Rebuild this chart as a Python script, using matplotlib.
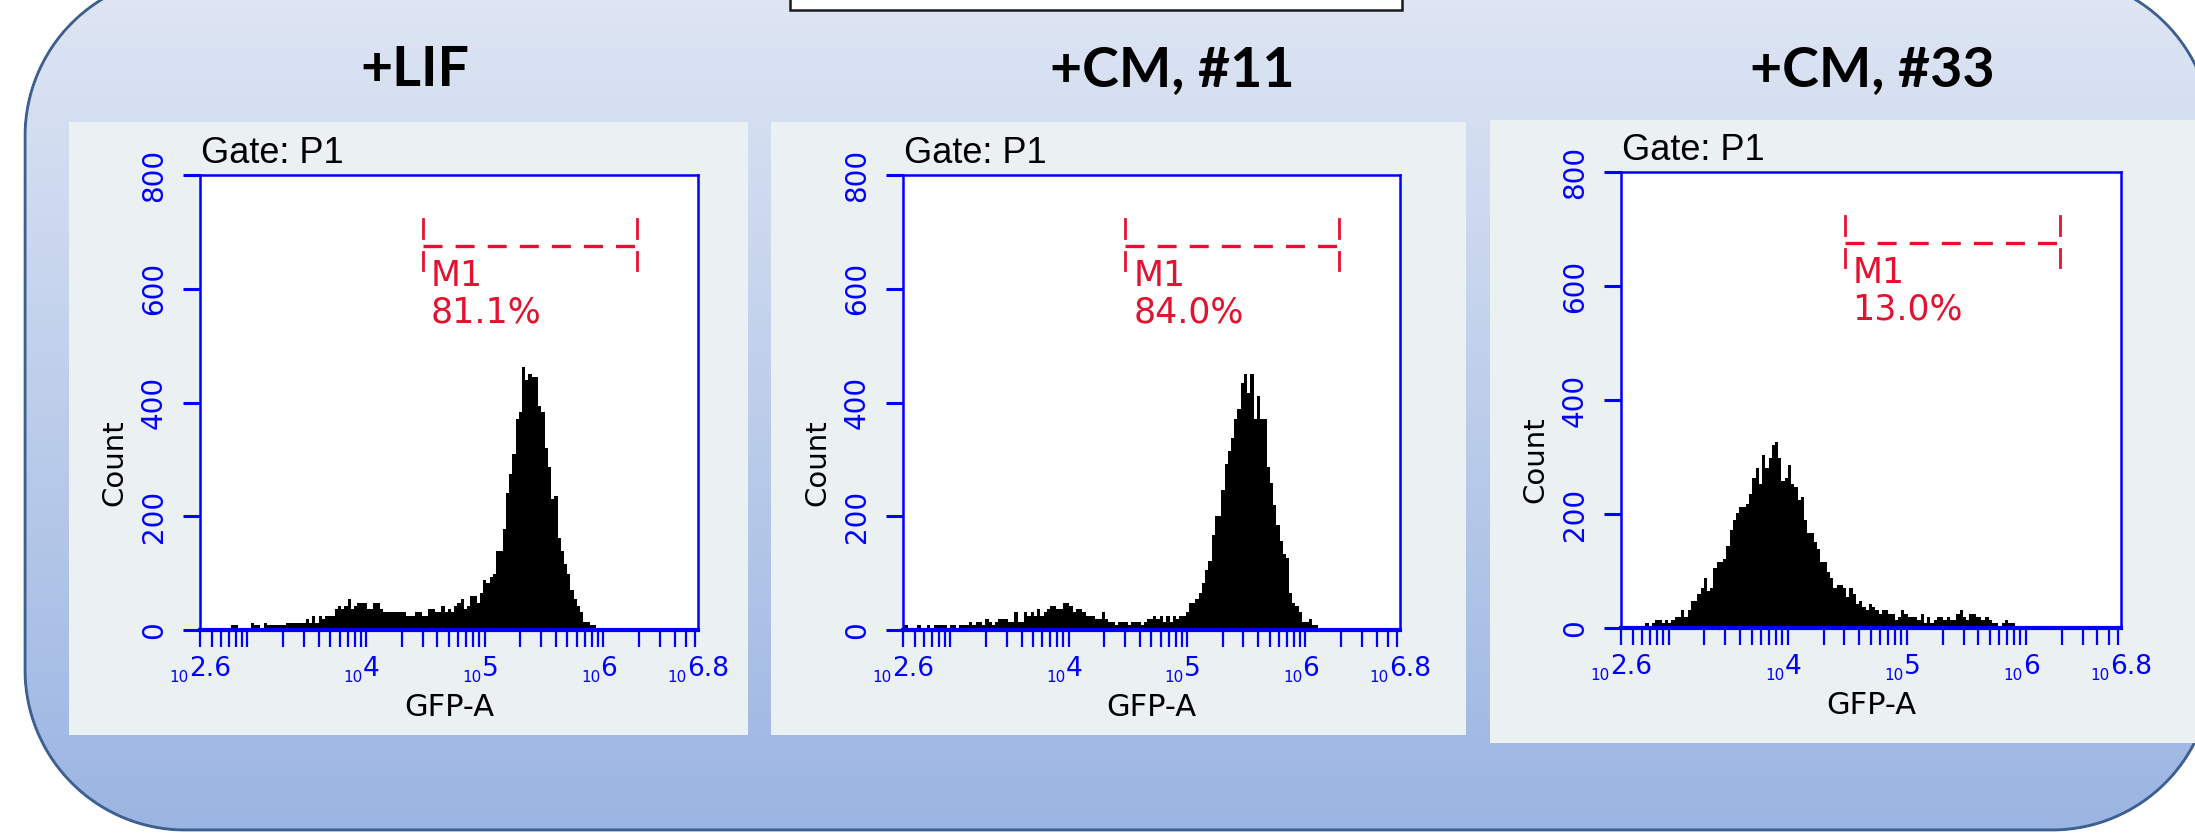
import numpy as np
import matplotlib
matplotlib.use("Agg")
import matplotlib.pyplot as plt
from matplotlib.patches import Rectangle
from matplotlib.ticker import FixedLocator, NullFormatter, NullLocator

# ---- data ----
titles = ["+LIF", "+CM, #11", "+CM, #33"]
m1_pct = ["81.1%", "84.0%", "13.0%"]
y_ticks = [0, 200, 400, 600, 800]
x_exps = ["2.6", "4", "5", "6", "6.8"]
m1_lo, m1_hi = 4.48, 6.285      # log10 GFP-A
m1_level = 675

# bin edges in log10(GFP-A), counts per bin
lif_edges = [2.861, 2.918, 3.030, 3.055, 3.106, 3.140, 3.162, 3.325, 3.494, 3.519,
             3.545, 3.570, 3.604, 3.629, 3.654, 3.739, 3.764, 3.789, 3.814, 3.848,
             3.874, 3.899, 3.924, 4.008, 4.059, 4.118, 4.143, 4.337, 4.413, 4.472,
             4.523, 4.582, 4.633, 4.666, 4.692, 4.717, 4.742, 4.767, 4.801, 4.826,
             4.852, 4.877, 4.936, 4.961, 4.987, 5.012, 5.046, 5.071, 5.096, 5.155,
             5.181, 5.206, 5.231, 5.265, 5.290, 5.316, 5.341, 5.369, 5.403, 5.448,
             5.473, 5.507, 5.532, 5.557, 5.583, 5.616, 5.642, 5.667, 5.692, 5.718,
             5.751, 5.777, 5.802, 5.827, 5.886, 5.937]
lif_counts = [9, 0, 13, 9, 0, 13, 9, 13, 19, 13,
              25, 13, 25, 19, 25, 37, 42, 37, 42, 54,
              37, 42, 47, 37, 47, 37, 32, 25, 32, 25,
              37, 32, 42, 32, 37, 32, 42, 47, 54, 37,
              42, 60, 47, 65, 88, 83, 93, 98, 139, 178,
              241, 274, 309, 371, 383, 463, 440, 450, 445, 394,
              383, 320, 287, 230, 236, 162, 139, 116, 98, 70,
              54, 42, 32, 14, 9]

cm11_edges = [2.600, 2.642, 2.718, 2.752, 2.803, 2.828, 2.862, 2.972, 2.997, 3.048,
              3.073, 3.158, 3.183, 3.217, 3.268, 3.293, 3.327, 3.352, 3.377, 3.403,
              3.487, 3.538, 3.572, 3.623, 3.648, 3.682, 3.707, 3.732, 3.758, 3.792,
              3.817, 3.842, 3.893, 3.952, 4.003, 4.037, 4.062, 4.113, 4.146, 4.223,
              4.282, 4.307, 4.332, 4.392, 4.417, 4.501, 4.527, 4.611, 4.637, 4.662,
              4.713, 4.738, 4.772, 4.797, 4.823, 4.856, 4.882, 4.907, 4.932, 4.992,
              5.017, 5.068, 5.101, 5.127, 5.152, 5.177, 5.211, 5.237, 5.287, 5.321,
              5.347, 5.372, 5.397, 5.423, 5.456, 5.482, 5.507, 5.532, 5.566, 5.592,
              5.617, 5.676, 5.701, 5.727, 5.752, 5.786, 5.811, 5.837, 5.862, 5.887,
              5.913, 5.946, 5.972, 6.031, 6.056, 6.107]
cm11_counts = [9, 0, 9, 0, 9, 0, 9, 0, 9, 0,
               9, 14, 9, 14, 9, 19, 14, 9, 14, 19,
               14, 32, 14, 32, 25, 32, 25, 37, 25, 32,
               37, 42, 37, 47, 42, 32, 37, 32, 25, 19,
               32, 19, 14, 9, 14, 9, 14, 9, 14, 19,
               25, 19, 25, 14, 25, 14, 25, 19, 25, 32,
               47, 54, 65, 83, 105, 121, 167, 200, 246, 292,
               315, 338, 371, 389, 434, 450, 417, 450, 371, 411,
               371, 287, 258, 220, 185, 156, 134, 127, 65, 47,
               42, 32, 14, 19, 9]

cm33_edges = [2.802, 2.835, 2.860, 2.886, 2.944, 2.970, 2.995, 3.020, 3.054, 3.104,
              3.129, 3.163, 3.188, 3.238, 3.272, 3.297, 3.322, 3.348, 3.373, 3.406,
              3.457, 3.482, 3.516, 3.541, 3.566, 3.591, 3.650, 3.675, 3.700, 3.734,
              3.759, 3.784, 3.810, 3.843, 3.868, 3.894, 3.919, 3.944, 3.978, 4.003,
              4.028, 4.053, 4.087, 4.112, 4.137, 4.162, 4.221, 4.246, 4.272, 4.330,
              4.356, 4.381, 4.414, 4.465, 4.490, 4.515, 4.549, 4.574, 4.599, 4.624,
              4.658, 4.683, 4.708, 4.734, 4.767, 4.792, 4.843, 4.902, 4.927, 4.952,
              4.977, 5.011, 5.086, 5.120, 5.145, 5.170, 5.196, 5.229, 5.254, 5.305,
              5.338, 5.364, 5.414, 5.448, 5.473, 5.498, 5.523, 5.582, 5.624, 5.658,
              5.691, 5.716, 5.767, 5.800, 5.826, 5.851, 5.910]
cm33_counts = [9, 0, 9, 14, 9, 14, 9, 14, 19, 32,
               19, 32, 47, 60, 70, 88, 65, 70, 105, 116,
               121, 144, 172, 189, 202, 212, 218, 235, 263, 281,
               253, 304, 281, 298, 321, 326, 298, 258, 263, 286,
               253, 247, 225, 230, 189, 167, 151, 139, 116, 98,
               88, 70, 75, 70, 54, 70, 60, 42, 47, 37,
               32, 42, 37, 32, 25, 32, 25, 14, 19, 32,
               25, 19, 14, 25, 9, 19, 9, 14, 19, 14,
               19, 14, 25, 32, 19, 14, 25, 19, 14, 19,
               14, 9, 0, 9, 14, 9]

hists = [(lif_edges, lif_counts), (cm11_edges, cm11_counts), (cm33_edges, cm33_counts)]

# ---- layout in pixels ----
W, H = 2195, 833
PT = 0.72  # px -> pt at dpi 100
panel_px = [(69, 122, 748, 735), (771, 122, 1466, 735), (1490, 120, 2200, 743)]
axes_px = [(200, 175, 698, 630), (903, 175, 1400, 630), (1621, 172, 2121, 628)]
title_x = [415, 1172, 1872]
BOX_L, BOX_R, BOX_T, BOX_B, BOX_RAD = 25, 2212, -24, 830, 160

RED = "#e3122f"
BLUE = "#0000ff"
plt.rcParams["lines.scale_dashes"] = False
plt.rcParams["font.family"] = ["DejaVu Sans"]

fig = plt.figure(figsize=(W / 100, H / 100), dpi=100)
fig.patch.set_facecolor("white")

# background: rounded box with vertical gradient and border, drawn as one RGBA image
bg = fig.add_axes([0, 0, 1, 1])
yy, xx = np.mgrid[0:H, 0:W] + 0.5
cx = np.clip(xx, BOX_L + BOX_RAD, BOX_R - BOX_RAD)
cy = np.clip(yy, BOX_T + BOX_RAD, BOX_B - BOX_RAD)
sd = np.hypot(xx - cx, yy - cy) - BOX_RAD          # distance to the box outline
fill_a = np.clip(0.5 - sd, 0, 1)
edge_a = np.clip(2.0 - np.abs(sd), 0, 1)
top = np.array([224, 231, 244]) / 255
bot = np.array([155, 181, 226]) / 255
edge_col = np.array([62, 96, 144]) / 255
t = ((yy - BOX_T) / (BOX_B - BOX_T))[..., None]
rgb = (top * (1 - t) + bot * t) * (1 - edge_a[..., None]) + edge_col * edge_a[..., None]
rgba = np.dstack([rgb, np.maximum(fill_a, edge_a)])
bg.imshow(rgba, extent=(0, W, H, 0), interpolation="nearest", aspect="auto", zorder=0)
bg.set_xlim(0, W)
bg.set_ylim(H, 0)
bg.axis("off")
# small white label box at the top
bg.add_patch(Rectangle((790, -12), 612, 22, fc="white", ec="#1a1a1a", lw=1.8, zorder=3))

for i in range(3):
    x0, y0, x1, y1 = panel_px[i]
    bg.add_patch(Rectangle((x0, y0), x1 - x0, y1 - y0, fc="#ebf0f3", ec="none", zorder=2))
    bg.text(title_x[i], 86, titles[i], ha="center", va="baseline", fontsize=40,
            fontweight="bold", family=["Lato", "DejaVu Sans"], zorder=3)

for i in range(3):
    ax0, ay0, ax1, ay1 = axes_px[i]
    ax = fig.add_axes([ax0 / W, (H - ay1) / H, (ax1 - ax0) / W, (ay1 - ay0) / H])
    ax.set_facecolor("white")
    edges, counts = hists[i]
    ax.stairs(counts, 10 ** np.array(edges), fill=True, color="black", lw=0, zorder=2)

    ax.set_xscale("log")
    ax.set_xlim(10 ** 2.6, 10 ** 6.8)
    ax.set_ylim(0, 800)

    for s in ["top", "left", "right"]:
        ax.spines[s].set_color(BLUE)
        ax.spines[s].set_linewidth(1.8)
    ax.spines["bottom"].set_color(BLUE)
    ax.spines["bottom"].set_linewidth(3.0)

    # y axis
    ax.set_yticks(y_ticks)
    ax.tick_params(axis="y", direction="out", length=12, width=2.2, colors=BLUE,
                   pad=11, labelsize=20, labelrotation=90)
    for lab in ax.get_yticklabels():
        lab.set_va("center")

    # x axis: log ticks, custom labels
    ticks = [k * 10.0 ** d for d in range(2, 7) for k in range(1, 10)
             if 10 ** 2.6 <= k * 10.0 ** d <= 10 ** 6.8]
    ax.xaxis.set_major_locator(FixedLocator(ticks))
    ax.xaxis.set_major_formatter(NullFormatter())
    ax.xaxis.set_minor_locator(NullLocator())
    ax.tick_params(axis="x", which="major", direction="out", length=12.5, width=1.6,
                   colors=BLUE)
    for e in x_exps:
        jx = -11 if "." in e else -3
        ax.annotate("10", xy=(10 ** float(e), 0), xycoords=("data", "axes fraction"),
                    xytext=(jx * PT, -52 * PT), textcoords="offset points",
                    ha="right", va="baseline", fontsize=11, color=BLUE,
                    annotation_clip=False)
        ax.annotate(e, xy=(10 ** float(e), 0), xycoords=("data", "axes fraction"),
                    xytext=(jx * PT, -46 * PT), textcoords="offset points",
                    ha="left", va="baseline", fontsize=19, color=BLUE,
                    annotation_clip=False)

    ax.annotate("GFP-A", xy=(0.5, 0), xycoords="axes fraction", xytext=(0, -77 * PT),
                textcoords="offset points", ha="center", va="center", fontsize=22)
    ax.annotate("Count", xy=(0, 0.5), xycoords="axes fraction",
                xytext=(-86 * PT, -60 * PT), textcoords="offset points",
                rotation=90, ha="center", va="center", fontsize=21)
    ax.annotate("Gate: P1", xy=(0, 1), xycoords="axes fraction", xytext=(1 * PT, 12 * PT),
                textcoords="offset points", ha="left", va="baseline", fontsize=26,
                family=["Liberation Sans", "DejaVu Sans"])

    # M1 marker
    ax.plot([10 ** m1_lo, 10 ** m1_hi], [m1_level, m1_level], color=RED, lw=2.4,
            dashes=(13.7, 9.4), zorder=3)
    for xv in (m1_lo, m1_hi):
        ax.plot([10 ** xv] * 2, [633, 665], color=RED, lw=2.0, zorder=3)
        ax.plot([10 ** xv] * 2, [690, 723], color=RED, lw=2.0, zorder=3)
    ax.text(10 ** 4.545, 605, "M1", color=RED, fontsize=25, ha="left", va="baseline")
    ax.text(10 ** 4.545, 541, m1_pct[i], color=RED, fontsize=25, ha="left", va="baseline")

fig.savefig("out.png", dpi=100)
